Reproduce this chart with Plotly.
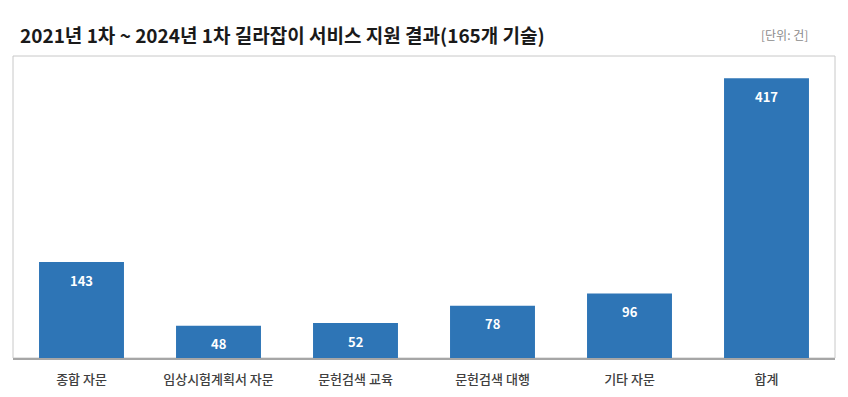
import plotly.graph_objects as go

categories = ["종합 자문", "임상시험계획서 자문", "문헌검색 교육", "문헌검색 대행", "기타 자문", "합계"]
values = [143, 48, 52, 78, 96, 417]
title_text = "2021년 1차 ~ 2024년 1차 길라잡이 서비스 지원 결과(165개 기술)"
unit_text = "[단위: 건]"

FONT = "Noto Sans CJK KR"

fig = go.Figure(go.Bar(
    x=categories, y=values,
    marker=dict(color="#2e75b6", line=dict(width=0)),
    hoverinfo="x+y",
))

annotations = [
    dict(x=c, y=v, xref="x", yref="y", text=str(v), showarrow=False,
         yanchor="middle", yshift=-18,
         font=dict(family=FONT, size=13, color="white", weight="bold"))
    for c, v in zip(categories, values)
]
annotations += [
    dict(text=title_text, xref="paper", yref="paper", x=0.006, y=1.0, yshift=22,
         xanchor="left", yanchor="middle", showarrow=False,
         font=dict(family=FONT, size=19, color="#1a1a1a", weight="bold")),
    dict(text=unit_text, xref="paper", yref="paper", x=0.970, y=1.0, yshift=22,
         xanchor="right", yanchor="middle", showarrow=False,
         font=dict(family=FONT, size=12, color="#8c8c8c")),
]

fig.update_layout(
    width=848, height=397,
    margin=dict(l=13, r=13, t=56, b=39, pad=0),
    paper_bgcolor="white", plot_bgcolor="white",
    bargap=0.38, showlegend=False,
    xaxis=dict(showline=True, linecolor="#a6a6a6", linewidth=1.5, ticks="",
               automargin=False, ticklabelstandoff=9,
               tickfont=dict(family=FONT, size=13, color="#404040", weight=500), fixedrange=True),
    yaxis=dict(range=[0, 450], visible=False, showgrid=False, fixedrange=True, automargin=False),
    shapes=[dict(type="rect", xref="paper", yref="paper", x0=0, x1=1, y0=0, y1=1,
                 line=dict(color="#c8c8c8", width=1), layer="below")],
    annotations=annotations,
)

fig.write_html("out.html", config={"displayModeBar": False},
               post_script="document.body.style.margin='0';")
